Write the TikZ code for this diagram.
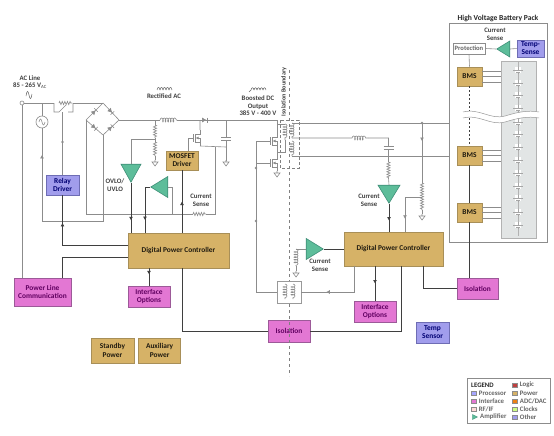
\documentclass[tikz,border=0pt]{standalone}
\usepackage{fontspec}
\setmainfont{Carlito}
\usepackage{tikz}
\usetikzlibrary{arrows.meta,positioning,shapes.geometric,shadows,decorations.pathmorphing,decorations.markings}
\definecolor{tanfill}{HTML}{D6B267}
\definecolor{tanline}{HTML}{A88F58}
\definecolor{pinkfill}{HTML}{E377D3}
\definecolor{pinkline}{HTML}{9C5A98}
\definecolor{bluefill}{HTML}{A19DEC}
\definecolor{blueline}{HTML}{6E6DB4}
\definecolor{ampfill}{HTML}{5DBD9A}
\definecolor{ampline}{HTML}{3F8F78}
\definecolor{wiregrey}{HTML}{8C8C8C}
\definecolor{busgrey}{HTML}{3F3F3F}
\definecolor{cellfill}{HTML}{E2E5E5}
\tikzset{
  tipat/.style={postaction={decorate},decoration={markings,mark=at position #1 with {\arrow{Latex[length=3.5pt,width=4pt]}}}},
  diodeat/.style={postaction={decorate},decoration={markings,mark=at position #1 with {\arrow{Latex[length=4.5pt,width=5pt] Bar[width=5pt]}}}},
  res/.style={decorate,decoration={zigzag,segment length=2.6pt,amplitude=1.6pt}},
  ind/.style={decorate,decoration={coil,segment length=2.6pt,amplitude=2pt,aspect=.5}},
  mos/.pic={
    \draw (5,-8) -- (5,-4) -- (0,-4) -- (0,4) -- (5,4) -- (5,8);
    \draw (-2,-4) -- (-2,4) (-2,0) -- (-7,0);
    \draw[-{Latex[length=3pt,width=3pt]}] (5,0) -- (0.5,0);
    \draw (5,0) -- (5,4);
  },
  gnd/.pic={\draw (0,0) -- (0,2) (-3,2) -- (3,2) -- (0,6) -- cycle;},
  cap/.pic={\draw (-5,-1.2) -- (5,-1.2) (-5,1.2) -- (5,1.2);}
}
\begin{document}
\begin{tikzpicture}[x=1pt,y=-1pt,>=Latex,every node/.style={font=\bfseries\fontsize{7.4}{8.2}\selectfont,inner sep=0pt,align=center,text=black!75}]
\tikzstyle{wire}=[draw=wiregrey, line width=.6pt]
\tikzstyle{bus}=[draw=busgrey, line width=1pt]
\tikzstyle{pwr}=[draw=tanline, fill=tanfill, line width=.6pt, text=black!85!tanfill, drop shadow={shadow xshift=.7pt,shadow yshift=-.7pt,opacity=.35}]
\tikzstyle{ifc}=[draw=pinkline, fill=pinkfill, line width=.6pt, text=violet!75!black, drop shadow={shadow xshift=.7pt,shadow yshift=-.7pt,opacity=.35}]
\tikzstyle{oth}=[draw=blueline, fill=bluefill, line width=.6pt, text=blue!45!black, drop shadow={shadow xshift=.7pt,shadow yshift=-.7pt,opacity=.35}]
\tikzstyle{amp}=[draw=ampline, fill=ampfill, line width=.6pt, isosceles triangle, isosceles triangle stretches, anchor=apex]
\tikzstyle{lbl}=[text=black!75, font=\bfseries\fontsize{6.8}{7.6}\selectfont]
\tikzstyle{lgd}=[text=black!60, font=\bfseries\fontsize{6.8}{7.6}\selectfont]
\tikzstyle{swatch}=[draw=black!45, minimum width=5pt, minimum height=3.5pt]
\useasboundingbox (0,0) rectangle (554,436);
\fill[white] (0,0) rectangle (554,436);
% battery pack
\node[draw=black!45, line width=.7pt, minimum width=98pt, minimum height=219pt] (pack) at (498,132.5) {};
\node[above=.8pt of pack, text=black!85, font=\bfseries\fontsize{7.6}{8}\selectfont] (packt) {High Voltage Battery Pack};
\node[fill=cellfill, draw=black!30, minimum width=35pt, minimum height=177pt] (cells) at (518.5,149.5) {};
\draw[black!30, line width=.5pt] (518,62) -- (518,236);
\foreach \cy in {70,83,95,108,122,134,147,160,173,186,198,212,225} {
  \fill[white] (515,\cy-3) rectangle (521,\cy+3);
  \draw[black!35, line width=.5pt] (518,\cy-3) -- (518,\cy) (518,\cy+2) -- (518,\cy+4) (513,\cy) -- (523,\cy) (516,\cy+2) -- (520,\cy+2);
}
\node[pwr, minimum width=25pt, minimum height=19pt] (bmsa) at (469.5,76.5) {BMS};
\node[pwr, minimum width=25pt, minimum height=19pt] (bmsb) at (469.5,155.5) {BMS};
\node[pwr, minimum width=25pt, minimum height=19pt] (bmsc) at (469.5,212.5) {BMS};
\node[draw=black!45, fill=white, text=black!60, minimum width=32pt, minimum height=11pt, font=\bfseries\fontsize{6.6}{7}\selectfont] (prot) at (469,48.5) {Protection};
\node[oth, minimum width=27pt, minimum height=17pt] (tsense) at (530.5,48.5) {Temp-\\Sense};
\node[amp, shape border rotate=180, minimum width=16pt, minimum height=13pt] (ampe) at (496,49) {};
\node[lbl] (packcs) at (495,34) {Current\\Sense};
\draw[wire] (tsense.west) -- (ampe.lower side);
\draw[wire] (ampe.apex) -- (prot.east);
\draw[wire] (prot.south) -- (bmsa.north);
\draw[bus, dash pattern=on 2pt off 2pt, line width=1.3pt] (bmsa.south) -- (bmsb.north);
\draw[bus, line width=1.3pt] (bmsb.south) -- (bmsc.north);
\foreach \by/\bn in {71/bmsa,76/bmsa,82/bmsa,150/bmsb,155/bmsb,161/bmsb,207/bmsc,212/bmsc,218/bmsc}
  \draw[wire] (\bn.east |- 0,\by) -- (cells.west |- 0,\by);
\fill[white] (463,112) .. controls (480,108) and (490,120) .. (505,116) .. controls (518,112) and (528,110) .. (539,112) -- (539,118) .. controls (528,116) and (518,118) .. (505,122) .. controls (490,126) and (480,114) .. (463,118) -- cycle;
\draw[black!40, line width=.5pt] (463,112) .. controls (480,108) and (490,120) .. (505,116) .. controls (518,112) and (528,110) .. (539,112) (463,118) .. controls (480,114) and (490,126) .. (505,122) .. controls (518,118) and (528,116) .. (539,118);
% controllers and boxes
\node[pwr, minimum width=101pt, minimum height=35pt] (ctrla) at (178.5,250.5) {Digital Power Controller};
\node[pwr, minimum width=99pt, minimum height=34pt] (ctrlb) at (393.5,249) {Digital Power Controller};
\node[ifc, minimum width=57pt, minimum height=28pt] (plc) at (42.5,292) {Power Line\\Communication};
\node[ifc, minimum width=42pt, minimum height=21pt] (ifa) at (149,296.5) {Interface\\Options};
\node[ifc, minimum width=42pt, minimum height=21pt] (ifb) at (375,311.5) {Interface\\Options};
\node[pwr, minimum width=43pt, minimum height=25pt] (stby) at (112.5,350.5) {Standby\\Power};
\node[pwr, minimum width=42pt, minimum height=25pt, right=4pt of stby] (auxp) {Auxiliary\\Power};
\node[ifc, minimum width=42pt, minimum height=22pt] (isoa) at (289,331) {Isolation};
\node[ifc, minimum width=41pt, minimum height=21pt] (isob) at (477.5,288.5) {Isolation};
\node[oth, minimum width=33pt, minimum height=21pt] (temp) at (432.5,332.5) {Temp\\Sensor};
\node[oth, minimum width=33pt, minimum height=20pt] (relay) at (62.5,185) {Relay\\Driver};
\node[pwr, minimum width=32pt, minimum height=19pt] (mosd) at (182,160.5) {MOSFET\\Driver};
% amplifiers
\node[amp, shape border rotate=-90, minimum width=20pt, minimum height=18pt] (ampa) at (131,183) {};
\node[amp, shape border rotate=180, minimum width=21pt, minimum height=17pt] (ampb) at (150,187) {};
\node[amp, shape border rotate=-90, minimum width=22pt, minimum height=18pt] (ampc) at (389,204) {};
\node[amp, shape border rotate=0, minimum width=21pt, minimum height=17pt] (ampd) at (324,249) {};
% labels
\node[lbl] (acl) at (30,82) {AC Line\\85 - 265 V$_{\mathrm{AC}}$};
\node[lbl] (rect) at (164,96) {Rectified AC};
\node[lbl] (ovlo) at (115,185) {OVLO/\\UVLO};
\node[lbl] (csa) at (201,200) {Current\\Sense};
\node[lbl] (bdc) at (258,106) {Boosted DC\\Output\\385 V - 400 V};
\node[lbl, rotate=90, font=\bfseries\fontsize{6.2}{7}\selectfont] (ibnd) at (284,92) {Isolation Boundary};
\node[lbl] (csc) at (369,200) {Current\\Sense};
\node[lbl] (csd) at (320,265) {Current\\Sense};
% wave glyphs
\draw[black!60, line width=.5pt] (26,96) .. controls (27,90) and (28,90) .. (29,95) .. controls (30,100) and (31,100) .. (32,94);
\foreach \wx in {157,160,163,166,169} \draw[black!60, line width=.5pt] (\wx,90) .. controls (\wx+.8,86.5) and (\wx+2.2,86.5) .. (\wx+3,90);
\foreach \wx in {251,254,257,260,263} \draw[black!60, line width=.5pt] (\wx,90) .. controls (\wx+.8,87) and (\wx+2.2,87) .. (\wx+3,90);
\draw[black!60, line width=.5pt] (249,92) -- (251,90);
% input stage
\coordinate (acin) at (22,103);
\coordinate (swl) at (54,103);
\coordinate (swr) at (73,103);
\coordinate (brt) at (103,103);
\coordinate (brr) at (119,120);
\coordinate (brb) at (103,135);
\coordinate (brl) at (86,120);
\coordinate (srcc) at (42,122);
\coordinate (indl) at (160,120);
\coordinate (indr) at (177,120);
\coordinate (dioa) at (200,120);
\coordinate (diob) at (212,120);
\coordinate (outn) at (226,120);
\coordinate (priin) at (277,120);
\coordinate (dvt) at (155,120);
\coordinate (dvm) at (155,139);
\coordinate (dvb) at (155,160);
\coordinate (rsl) at (193,214);
\coordinate (rsr) at (206,214);
\coordinate (snsn) at (215,214);
\coordinate (snsm) at (172,214);
\coordinate (rtn) at (86,214);
\coordinate (srcb) at (42,221);
\coordinate (brbb) at (103,221);
\coordinate (srcn) at (215,147);
\coordinate (capn) at (226,147);
\draw[wire] (acin) -- (swl) (swr) -- (brt);
\draw[wire, res] (swl) ++(5,0) -- ++(13,0);
\draw[wire] (swl) -- ++(0,9) -- ++(5,0) -- ++(7,-7) (swl) ++(14,9) -- ++(5,0) -- (swr);
\draw[wire] (acin) -- (plc.north -| acin);
\draw[wire, fill=white] (acin) circle (2pt);
\draw[wire, tipat=.56] (srcb) -- (srcc |- acin);
\draw[wire, fill=white] (srcc) circle (6pt);
\draw[wire] (39,122) .. controls (40,118) and (41,118) .. (42,122) .. controls (43,126) and (44,126) .. (45,122);
\draw[wire] (srcb) -- (brbb) -- (brb);
\draw[wire, diodeat=.6] (brl) -- (brt);
\draw[wire, diodeat=.6] (brt) -- (brr);
\draw[wire, diodeat=.6] (brl) -- (brb);
\draw[wire, diodeat=.6] (brb) -- (brr);
\draw[wire] (brr) -- (indl) (indr) -- (dioa) (dioa) -- (diob);
\draw[wire, diodeat=.6] (dioa) -- (diob);
\draw[wire] (diob) -- (priin) -- ++(0,13);
\draw[wire, ind] (indl) -- (indr);
\draw[wire] (brl) -- (rtn) -- (rsl) (rsr) -- (snsn) -- (srcn);
\draw[wire, res] (rsl) -- (rsr);
\draw[wire] (snsm) |- (ampb.lower side);
\draw[wire, res] (dvt) ++(0,5) -- ++(0,13);
\draw[wire, res] (dvm) ++(0,3) -- ++(0,14);
\draw[wire] (dvt) -- ++(0,5) (dvm) -- ++(0,-1) (dvm) -- ++(0,3) (dvb) ++(0,-4) -- (dvb);
\draw[wire] (dvm) -| (ampa.lower side);
\pic[wiregrey, line width=.6pt] at (dvb) {gnd};
\draw[wire] (outn) -- ++(0,17) (outn) ++(0,21) -- ++(0,20);
\pic[wiregrey, line width=.7pt] at (226,139) {cap};
\pic[wiregrey, line width=.6pt] at (226,160) {gnd};
\pic[wiregrey, line width=.6pt] at (195,138) {mos};
\draw[wire] (mosd.north -| 188,0) -- (188,138);
\draw[wire] (200,120) -- (200,130) (200,146) -- (capn);
\draw[bus] (relay.south) |- ([yshift=5pt]ctrla.west);
\draw[bus, tipat=.45] (62.5,245.5) -- (relay.south);
\draw[bus] ([xshift=20pt]plc.north) |- ([yshift=-7pt]ctrla.west);
\draw[wire] (62.5,112) -- (relay.north);
\fill[wiregrey] (62.5,142) circle (1.3pt);
\draw[bus, tipat=.75] (ampa.apex) -- (ampa.apex |- ctrla.north);
\draw[bus, tipat=.75] (ampb.apex) -- ++(-5,0) -- (ctrla.north -| 145,0);
\draw[bus, tipat=.5] (ctrla.north -| mosd) -- (mosd.south);
\draw[bus, tipat=.35] (ifa.north |- ctrla.south) -- (ifa.north);
\draw[bus] ([xshift=3.5pt]ctrla.south) |- (isoa.west);
\draw[bus] (isoa.east) -| ([xshift=7.5pt]ctrlb.south);
% isolation stage
\draw[black!50, dashed, line width=.6pt] (289,70) -- (289,376);
\draw[black!50, densely dashed, line width=.5pt] (280,120) rectangle (299,168);
\coordinate (sec) at (292,123);
\coordinate (sec2) at (292,138);
\coordinate (sec3) at (292,156);
\draw[wiregrey, line width=.6pt, ind] (285,124) -- (285,140);
\draw[wiregrey, line width=.6pt, ind] (sec) -- (sec2);
\draw[wiregrey, line width=.6pt, ind] (292,141) -- (sec3);
\pic[wiregrey, line width=.6pt] at (272,141) {mos};
\pic[wiregrey, line width=.6pt] at (272,163) {mos};
\pic[wiregrey, line width=.6pt] at (277,171) {gnd};
\draw[wire] (277,149) -- (277,155) (277,152) -| (285,140) (277,124) -- (285,124);
\draw[wire] (265,141) -- (256,141) -- (256,292);
\fill[wiregrey] (256,168) circle (1.3pt) (256,221) circle (1.3pt);
\draw[wire] (256,163) -- (265,163);
\draw[wire] (sec) -- (pack.west |- sec);
\draw[wire] (sec3) -- (pack.west |- sec3);
\draw[wire] (sec2) -- (352,138) (368,138) -- (388.5,138) -- (388.5,146) (388.5,150) -- (388.5,162) (388.5,178) -- (ampc.lower side);
\draw[wire, ind] (352,138) -- (368,138);
\pic[wiregrey, line width=.7pt] at (388.5,148) {cap};
\draw[wire, res] (388.5,162) -- (388.5,178);
\draw[bus, tipat=.6] (ampc.apex) -- (ampc.apex |- ctrlb.north);
\draw[wire, tipat=.3] (422,123) -- (422,183);
\draw[wire, res] (422,183) -- (422,210);
\draw[wire] (422,210) -- (422,214);
\pic[wiregrey, line width=.6pt] at (422,214) {gnd};
\fill[wiregrey] (422,123) circle (1.3pt);
\draw[wire, tipat=.75] (422,197) -- (405,197) -- (ctrlb.north -| 405,0);
\draw[bus] (ampd.apex) -- (ampd.apex -| ctrlb.west);
\draw[wire] (ampd.lower side) -- (296,249);
\draw[wire, ind] (296,249) -- (296,266);
\draw[wire] (296,266) -- (296,271);
\pic[wiregrey, line width=.6pt] at (296,271) {gnd};
\node[draw=black!40, fill=white, minimum width=24pt, minimum height=22pt] (xfmr) at (289,292) {};
\draw[wiregrey, line width=.6pt, ind] (285,284) -- (285,299);
\draw[wiregrey, line width=.6pt, ind] (293,284) -- (293,299);
\draw[wire] (xfmr.west) -- (256,292);
\draw[wire, tipat=.68] ([xshift=-39.5pt]ctrlb.south) |- (xfmr.east);
\draw[bus, tipat=.5] (ifb.north |- ctrlb.south) -- (ifb.north);
\draw[bus] ([xshift=29.5pt]ctrlb.south) |- (isob.west);
\draw[bus, line width=1.3pt] (isob.north -| bmsc) -- (bmsc.south);
% legend
\node[draw=black!45, minimum width=83pt, minimum height=45pt] (lgnd) at (508.5,400.5) {};
\node[anchor=west, text=black!85, font=\bfseries\fontsize{6.8}{7.6}\selectfont] (lgt) at (471,385) {LEGEND};
\foreach \ln/\ly/\lc/\lt in {a/393/blue!35/Processor,b/401/pinkfill/Interface,c/409/pink!60/{RF/IF}} {
  \node[swatch, fill=\lc] (sw\ln) at (474,\ly) {};
  \node[lgd, right=2pt of sw\ln] (tx\ln) {\lt};
}
\node[isosceles triangle, isosceles triangle stretches, draw=ampline, fill=ampfill, minimum width=5pt, minimum height=5pt] (swd) at (474,417) {};
\node[lgd, right=2pt of swd] (txd) {Amplifier};
\foreach \ln/\ly/\lc/\lt in {e/385/red!50!gray/Logic,f/393/tanfill/Power,g/401/orange!70!brown/{ADC/DAC},h/409/green!40!yellow!50/Clocks,i/417/bluefill/Other} {
  \node[swatch, fill=\lc] (sw\ln) at (515,\ly) {};
  \node[lgd, right=2pt of sw\ln] (tx\ln) {\lt};
}
\end{tikzpicture}
\end{document}
